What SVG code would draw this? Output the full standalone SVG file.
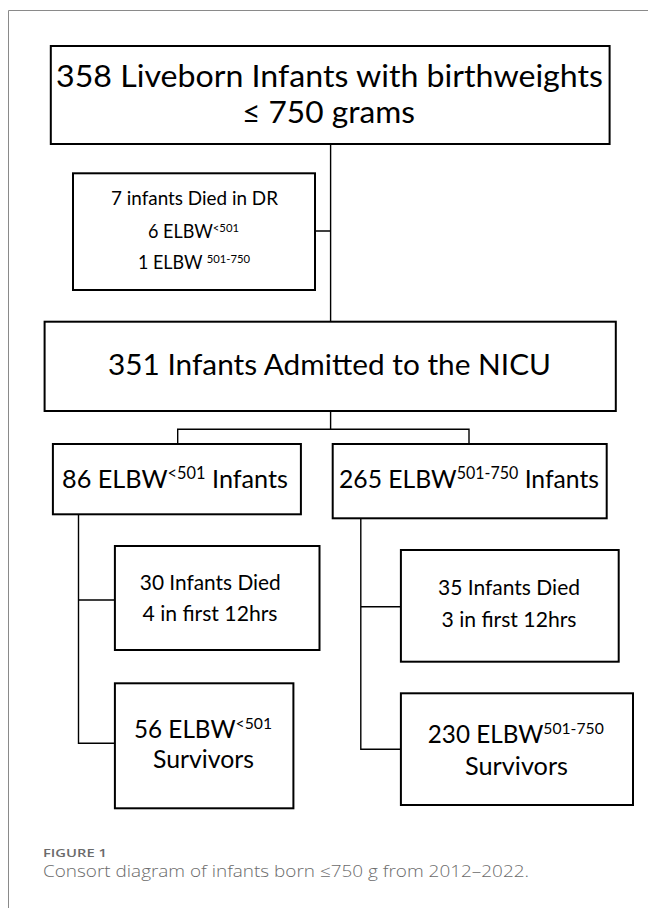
<svg xmlns="http://www.w3.org/2000/svg" width="648" height="908" viewBox="0 0 648 908">
<style>
.box{fill:#fff;stroke:#000;stroke-width:2}
.ln{fill:none;stroke:#000;stroke-width:1.4}
.t{font-family:Lato,"Open Sans","Liberation Sans",sans-serif;fill:#000;text-anchor:middle}
.cap{font-family:"Open Sans","Liberation Sans",sans-serif;fill:#6b6b6b}
</style>
<rect width="648" height="908" fill="#fff"/>
<path d="M8.5,908 V10.5 H648" fill="none" stroke="#8a8a8a" stroke-width="1"/>
<g id="connectors">
<path class="ln" d="M330.6,144 V321.7 M315,231 H330.6"/>
<path class="ln" d="M330.6,411 V429.3 M177.7,444 V429.3 H469 V444"/>
<path class="ln" d="M78.5,514.3 V743.3 H114.9 M78.5,600 H114.9"/>
<path class="ln" d="M360.8,518.3 V749.3 H400.9 M360.8,606.7 H400.9"/>
</g>
<g id="n_liveborn">
<rect class="box" x="50.8" y="46" width="558.8" height="98"/>
<text class="t" x="329.5" y="87.3" font-size="31.4" textLength="547" lengthAdjust="spacingAndGlyphs">358 Liveborn Infants with birthweights</text>
<text class="t" x="328.5" y="123.3" font-size="31.4" textLength="173" lengthAdjust="spacingAndGlyphs">≤ 750 grams</text>
</g>
<g id="n_died_dr">
<rect class="box" x="73" y="173.3" width="242" height="116.7"/>
<text class="t" x="194.5" y="204.5" font-size="18.8" textLength="167" lengthAdjust="spacingAndGlyphs">7 infants Died in DR</text>
<text class="t" x="193.5" y="237.5" font-size="18.8" textLength="91" lengthAdjust="spacingAndGlyphs">6 ELBW<tspan font-size="11.8" dy="-5.5">&lt;501</tspan></text>
<text class="t" x="194" y="268.8" font-size="18.8" textLength="112" lengthAdjust="spacingAndGlyphs">1 ELBW <tspan font-size="11.8" dy="-5.5">501-750</tspan></text>
</g>
<g id="n_nicu">
<rect class="box" x="44.6" y="321.7" width="571.2" height="89.3"/>
<text class="t" x="329.5" y="375" font-size="29.3" textLength="443" lengthAdjust="spacingAndGlyphs">351 Infants Admitted to the NICU</text>
</g>
<g id="n_lt501">
<rect class="box" x="52.9" y="444" width="248" height="70.3"/>
<text class="t" x="175" y="488.3" font-size="25.3" textLength="226" lengthAdjust="spacingAndGlyphs">86 ELBW<tspan font-size="16.4" dy="-9">&lt;501</tspan><tspan dy="9"> Infants</tspan></text>
</g>
<g id="n_501_750">
<rect class="box" x="332.7" y="444" width="274" height="74.3"/>
<text class="t" x="469" y="488.3" font-size="25.3" textLength="260" lengthAdjust="spacingAndGlyphs">265 ELBW<tspan font-size="16.4" dy="-9">501-750</tspan><tspan dy="9"> Infants</tspan></text>
</g>
<g id="n_died_lt501">
<rect class="box" x="114.9" y="546" width="204.6" height="104"/>
<text class="t" x="210.3" y="590" font-size="20.6" textLength="141" lengthAdjust="spacingAndGlyphs">30 Infants Died</text>
<text class="t" x="210" y="620.7" font-size="20.6" textLength="135" lengthAdjust="spacingAndGlyphs">4 in first 12hrs</text>
</g>
<g id="n_surv_lt501">
<rect class="box" x="114.9" y="683.3" width="178.5" height="125"/>
<text class="t" x="203" y="737.7" font-size="25" textLength="138" lengthAdjust="spacingAndGlyphs">56 ELBW<tspan font-size="16.2" dy="-9">&lt;501</tspan></text>
<text class="t" x="203.5" y="768.3" font-size="25" textLength="101" lengthAdjust="spacingAndGlyphs">Survivors</text>
</g>
<g id="n_died_501_750">
<rect class="box" x="400.9" y="550" width="217.8" height="111.7"/>
<text class="t" x="509" y="595" font-size="20.6" textLength="142" lengthAdjust="spacingAndGlyphs">35 Infants Died</text>
<text class="t" x="509" y="626.7" font-size="20.6" textLength="135" lengthAdjust="spacingAndGlyphs">3 in first 12hrs</text>
</g>
<g id="n_surv_501_750">
<rect class="box" x="400.9" y="693.3" width="232.1" height="111.7"/>
<text class="t" x="515.8" y="743.3" font-size="25" textLength="176" lengthAdjust="spacingAndGlyphs">230 ELBW<tspan font-size="16.2" dy="-9">501-750</tspan></text>
<text class="t" x="516.5" y="775" font-size="25" textLength="103" lengthAdjust="spacingAndGlyphs">Survivors</text>
</g>
<g id="caption">
<text class="cap" x="43" y="857" font-size="11.5" font-weight="600" textLength="64" lengthAdjust="spacingAndGlyphs">FIGURE 1</text>
<text class="cap" x="43" y="876.5" font-size="16" font-weight="300" textLength="486" lengthAdjust="spacingAndGlyphs">Consort diagram of infants born ≤750 g from 2012–2022.</text>
</g>
</svg>
